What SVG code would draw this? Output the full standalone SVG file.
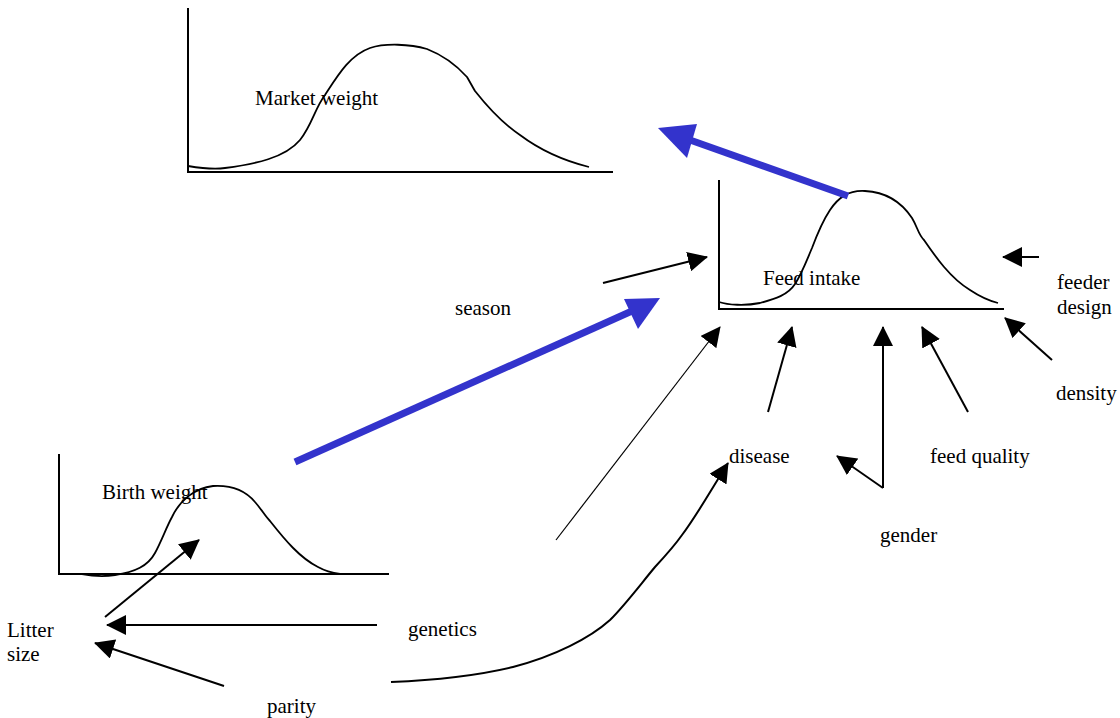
<svg xmlns="http://www.w3.org/2000/svg" width="1120" height="718" viewBox="0 0 1120 718">
<style>
.t{font-family:"Liberation Serif","Times New Roman",serif;font-size:21px;fill:#000}
.ax{fill:none;stroke:#000;stroke-width:2}
.cv{fill:none;stroke:#000;stroke-width:1.8}
.a{fill:none;stroke:#000;stroke-width:2;marker-end:url(#ah)}
.thin{fill:none;stroke:#000;stroke-width:1.2;marker-end:url(#ah)}
.b{fill:none;stroke:#3333cc;stroke-width:7}
</style>
<defs>
<marker id="ah" markerUnits="userSpaceOnUse" viewBox="0 0 20 20" refX="19" refY="10" markerWidth="20" markerHeight="20" orient="auto">
<path d="M0,0 L20,10 L0,20 Z" fill="#000"/>
</marker>
</defs>
<rect width="1120" height="718" fill="#fff"/>
<g id="market-weight">
<path class="ax" d="M188,8 V172 H613"/>
<path class="cv" d="M188,166 C200,168 212,170 225,168 C255,164 285,158 300,140 C312,125 315,108 325,95 C338,75 350,55 370,48 C385,43 410,44 427,49 C445,56 458,67 467,77 C470,82 472,86 475,91 C490,110 505,125 520,135 C540,150 565,161 589,167"/>
<text class="t" x="255" y="105">Market weight</text>
</g>
<g id="feed-intake">
<path class="ax" d="M719,180 V309 H1004"/>
<path class="cv" d="M719,302 C728,305 745,306 760,303 C775,299 788,295 795,284 C802,273 806,262 812,248 C818,232 822,222 830,210 C838,198 848,190 865,191 C885,192 900,200 912,218 C918,228 918,234 924,240 C935,256 950,278 970,290 C982,298 990,301 998,303"/>
<text class="t" x="763" y="285">Feed intake</text>
</g>
<g id="birth-weight">
<path class="ax" d="M59,454 V574 H389"/>
<path class="cv" d="M82,574 C92,576 103,577 115,575 C135,572 148,566 155,553 C162,540 166,528 172,517 C180,500 195,488 213,486 C230,485 245,490 255,502 C262,510 265,516 270,521 C285,540 300,558 318,567 C327,572 333,573 340,574"/>
<text class="t" x="102" y="499">Birth weight</text>
</g>
<g id="labels">
<text class="t" x="455" y="315">season</text>
<text class="t" x="1057" y="289">feeder</text>
<text class="t" x="1057" y="314">design</text>
<text class="t" x="1056" y="400">density</text>
<text class="t" x="729" y="463">disease</text>
<text class="t" x="930" y="463">feed quality</text>
<text class="t" x="880" y="542">gender</text>
<text class="t" x="408" y="636">genetics</text>
<text class="t" x="7" y="637">Litter</text>
<text class="t" x="7" y="661">size</text>
<text class="t" x="267" y="713">parity</text>
</g>
<g id="connectors">
<line class="b" x1="848" y1="196" x2="690" y2="140"/>
<polygon points="658,128 697,124 687,158" fill="#3333cc"/>
<line class="b" x1="295" y1="462" x2="632" y2="311"/>
<polygon points="660,298 624,299 638,329" fill="#3333cc"/>
<line class="a" x1="603" y1="283" x2="707" y2="257"/>
<line class="a" x1="1039" y1="257" x2="1003" y2="257"/>
<line class="a" x1="1052" y1="360" x2="1005" y2="318"/>
<line class="a" x1="968" y1="412" x2="922" y2="327"/>
<line class="a" x1="883" y1="488" x2="883" y2="327"/>
<line class="a" x1="883" y1="488" x2="837" y2="456"/>
<line class="a" x1="768" y1="412" x2="792" y2="327"/>
<line class="thin" x1="556" y1="540" x2="720" y2="327"/>
<path class="a" d="M391,682 C440,680 480,675 513,667 C555,656 590,638 610,620 C625,605 640,585 655,567 C668,553 675,545 682,535 C695,518 705,500 728,463"/>
<line class="a" x1="105" y1="617" x2="199" y2="540"/>
<line class="a" x1="377" y1="625" x2="107" y2="625"/>
<line class="a" x1="224" y1="686" x2="95" y2="643"/>
</g>
</svg>
